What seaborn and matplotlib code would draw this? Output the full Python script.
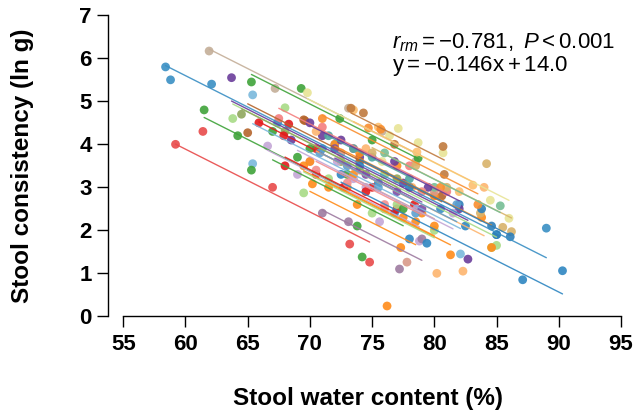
import numpy as np
import pandas as pd
import matplotlib
matplotlib.use("Agg")
import matplotlib.pyplot as plt
import seaborn as sns

sns.set_style("white")
plt.rcParams['font.family'] = ['Liberation Sans', 'DejaVu Sans']
plt.rcParams['mathtext.fontset'] = 'custom'
plt.rcParams['mathtext.rm'] = 'Liberation Sans'
plt.rcParams['mathtext.it'] = 'Liberation Sans:italic'
plt.rcParams['text.color'] = 'black'
plt.rcParams['xtick.color'] = 'black'
plt.rcParams['ytick.color'] = 'black'

SLOPE = -0.146
r_text = r"$\mathit{r}_{\mathit{rm}}=-0.781,\ \mathit{P}<0.001$"
eq_text = r"$\mathrm{y}=-0.146\mathrm{x}+14.0$"

x_ticks = [55, 60, 65, 70, 75, 80, 85, 90, 95]
y_ticks = [0, 1, 2, 3, 4, 5, 6, 7]

# subject colours
colors = ["#3A8FC4", "#C4AE98", "#3FA33A", "#E8E496", "#6A3D9A", "#7AB8DC",
          "#3FA33A", "#E84A4A", "#A8DB86", "#8FA65C", "#B5652C", "#E31A1C",
          "#C4A6D6", "#FF8C1A", "#FF8C1A", "#F47F7F", "#4DA6A0", "#FDB56F",
          "#FF8C1A", "#9E7BA0", "#D9998A", "#2E86C1", "#D9B36A", "#77BE95",
          "#2E7EB8", "#6A3D9A", "#C4A6D6", "#FDBF6F", "#F98E2E", "#E31A1C",
          "#C07A3E", "#A8DB86", "#F28E8E", "#5DA0D0", "#FF8C1A", "#7B4FA8",
          "#3FA33A"]

xs = [
    [58.4, 58.8, 62.1, 67.4, 71.0, 75.5, 80.5, 85.0, 89.0],
    [61.9, 67.2, 73.1, 75.8, 78.5],
    [65.3, 69.3, 72.4, 75.0, 78.7],
    [69.8, 75.8, 76.4, 77.1, 78.7, 80.7, 84.5, 86.0],
    [63.7, 68.5, 71.0, 74.0, 77.5, 82.7],
    [65.4, 65.4, 72.0, 76.0, 82.1],
    [61.5, 64.2, 65.3, 69.0, 73.0],
    [59.2, 61.4, 67.0, 73.2, 74.8],
    [63.8, 68.0, 72.0, 76.0, 84.6, 85.0],
    [64.5, 68.0, 72.5, 77.0],
    [65.0, 69.5, 69.6, 74.0, 80.6],
    [65.9, 67.9, 68.3, 70.5, 75.0, 78.4],
    [66.6, 70.0, 73.5, 75.6, 78.8],
    [69.5, 70.2, 73.5, 76.0, 77.3, 79.0, 81.3],
    [72.0, 74.0, 77.0, 80.0, 83.8, 84.6],
    [67.5, 71.0, 73.5, 78.0, 81.0],
    [71.5, 73.5, 75.0, 78.0],
    [70.5, 74.5, 78.2, 80.2, 82.3, 84.0],
    [70.0, 73.0, 76.2, 78.5],
    [71.0, 73.1, 77.2, 79.0],
    [72.5, 74.0, 77.8, 80.0],
    [72.5, 76.8, 78.0, 79.4, 82.5, 87.1, 90.3],
    [75.0, 78.5, 81.0, 84.2, 85.5, 86.2, 83.7],
    [76.0, 80.0, 85.3],
    [74.0, 78.0, 82.0, 83.8, 84.6, 85.0, 86.1],
    [70.0, 72.5, 76.8, 79.5, 82.0],
    [69.0, 72.2, 74.5, 78.6, 81.5],
    [73.5, 75.5, 78.6, 83.1, 82.0],
    [71.0, 74.7, 75.7, 80.5, 83.5],
    [68.0, 70.5, 72.7, 74.5, 77.0],
    [73.3, 74.3, 76.8, 80.7, 80.8],
    [69.5, 71.5, 75.0, 77.0, 80.0],
    [70.5, 73.0, 76.0, 79.0],
    [70.8, 73.0, 75.5, 78.5, 81.8],
    [71.5, 73.8, 77.5, 80.0],
    [72.0, 74.5, 77.0, 79.0],
    [67.0, 70.0, 73.8, 74.2, 77.5],
]
ys = [
    [5.80, 5.50, 5.40, 4.50, 3.90, 3.10, 2.50, 1.90, 2.05],
    [6.17, 5.30, 4.84, 4.30, 3.60],
    [5.45, 5.30, 4.60, 4.10, 3.68],
    [5.20, 3.60, 4.20, 4.37, 4.04, 3.80, 2.70, 2.28],
    [5.55, 4.10, 4.20, 3.70, 3.10, 1.33],
    [5.15, 3.55, 4.00, 3.30, 1.45],
    [4.80, 4.20, 3.40, 3.70, 3.30],
    [4.00, 4.30, 3.00, 1.68, 1.26],
    [4.60, 4.85, 3.90, 3.30, 1.60, 1.65],
    [4.70, 4.30, 3.60, 3.20],
    [4.27, 4.57, 4.55, 3.60, 2.80],
    [4.50, 4.20, 4.47, 3.90, 3.00, 2.60],
    [3.96, 3.60, 3.20, 2.20, 1.75],
    [3.50, 3.08, 3.30, 2.50, 1.60, 2.40, 1.43],
    [4.00, 3.80, 3.50, 2.80, 2.30, 1.60],
    [4.60, 4.40, 3.90, 3.50, 2.90],
    [4.20, 3.90, 3.70, 3.20],
    [4.30, 3.90, 3.00, 1.00, 1.05, 3.00],
    [3.60, 3.00, 0.24, 2.20],
    [2.40, 2.20, 1.10, 1.80],
    [3.80, 3.40, 1.26, 2.90],
    [3.30, 2.40, 1.80, 1.70, 2.10, 0.85, 1.06],
    [3.80, 3.50, 3.00, 3.55, 2.07, 1.97, 2.40],
    [3.80, 3.00, 2.57],
    [3.50, 3.00, 2.60, 2.50, 2.10, 1.90, 1.85],
    [4.50, 4.10, 3.60, 3.00, 2.50],
    [3.30, 3.60, 3.00, 2.50, 2.40],
    [4.80, 4.40, 3.82, 3.05, 2.90],
    [4.60, 4.38, 4.35, 3.00, 2.60],
    [3.50, 3.30, 3.00, 2.90, 2.50],
    [4.84, 4.73, 4.00, 3.95, 3.30],
    [2.87, 3.20, 2.40, 2.60, 2.00],
    [3.40, 3.10, 2.60, 2.90],
    [3.80, 3.50, 3.00, 2.40, 2.60],
    [3.00, 2.60, 2.30, 2.10],
    [3.90, 3.30, 2.90, 2.50],
    [4.30, 3.90, 2.10, 1.38, 2.50],
]

# tidy tables
pts = pd.DataFrame([
    {"subject": i, "x": xv, "y": yv}
    for i, (sx, sy) in enumerate(zip(xs, ys)) for xv, yv in zip(sx, sy)
])
line_rows = []
for i, (sx, sy) in enumerate(zip(xs, ys)):
    b = np.mean(sy) - SLOPE * np.mean(sx)
    for xv in (min(sx), max(sx)):
        line_rows.append({"subject": i, "x": xv, "y": b + SLOPE * xv})
lines = pd.DataFrame(line_rows)
pal = {i: c for i, c in enumerate(colors)}

fig = plt.figure(figsize=(6.35, 4.13), dpi=100)
ax = fig.add_axes([0.1706, 0.2341, 0.823, 0.7496])

sns.lineplot(data=lines, x="x", y="y", hue="subject", units="subject",
             estimator=None, palette=pal, legend=False, lw=1.0, alpha=0.9, ax=ax)
sns.scatterplot(data=pts, x="x", y="y", hue="subject", palette=pal,
                legend=False, s=40, alpha=0.9, edgecolor="none", ax=ax)

ax.set_xlim(53.8, 95.8)
ax.set_ylim(0, 7.2)
ax.set_xticks(x_ticks)
ax.set_yticks(y_ticks)
ax.set_xlabel("")
ax.set_ylabel("")
for s in ("top", "right"):
    ax.spines[s].set_visible(False)
for s in ("left", "bottom"):
    ax.spines[s].set_linewidth(1.0)
    ax.spines[s].set_color("black")
ax.spines["left"].set_bounds(0, 7)
ax.spines["bottom"].set_bounds(55, 95)
ax.tick_params(axis="both", direction="out", length=8, width=1.0,
               color="black", labelcolor="black", labelsize=16,
               left=True, bottom=True)
ax.tick_params(axis="x", pad=5)
ax.tick_params(axis="y", pad=4)
for lab in ax.get_xticklabels() + ax.get_yticklabels():
    lab.set_fontweight("bold")

fig.text(368 / 635, 1 - 398 / 413, "Stool water content (%)", ha="center",
         va="center", fontsize=17.5, fontweight="bold")
fig.text(23 / 635, 1 - 166 / 413, "Stool consistency (ln g)", ha="center",
         va="center", rotation=90, fontsize=17.5, fontweight="bold")
fig.text(392 / 635, 1 - 43 / 413, r_text, ha="left", va="center", fontsize=16)
fig.text(392 / 635, 1 - 66 / 413, eq_text, ha="left", va="center", fontsize=16)

fig.savefig("out.png", dpi=100)
